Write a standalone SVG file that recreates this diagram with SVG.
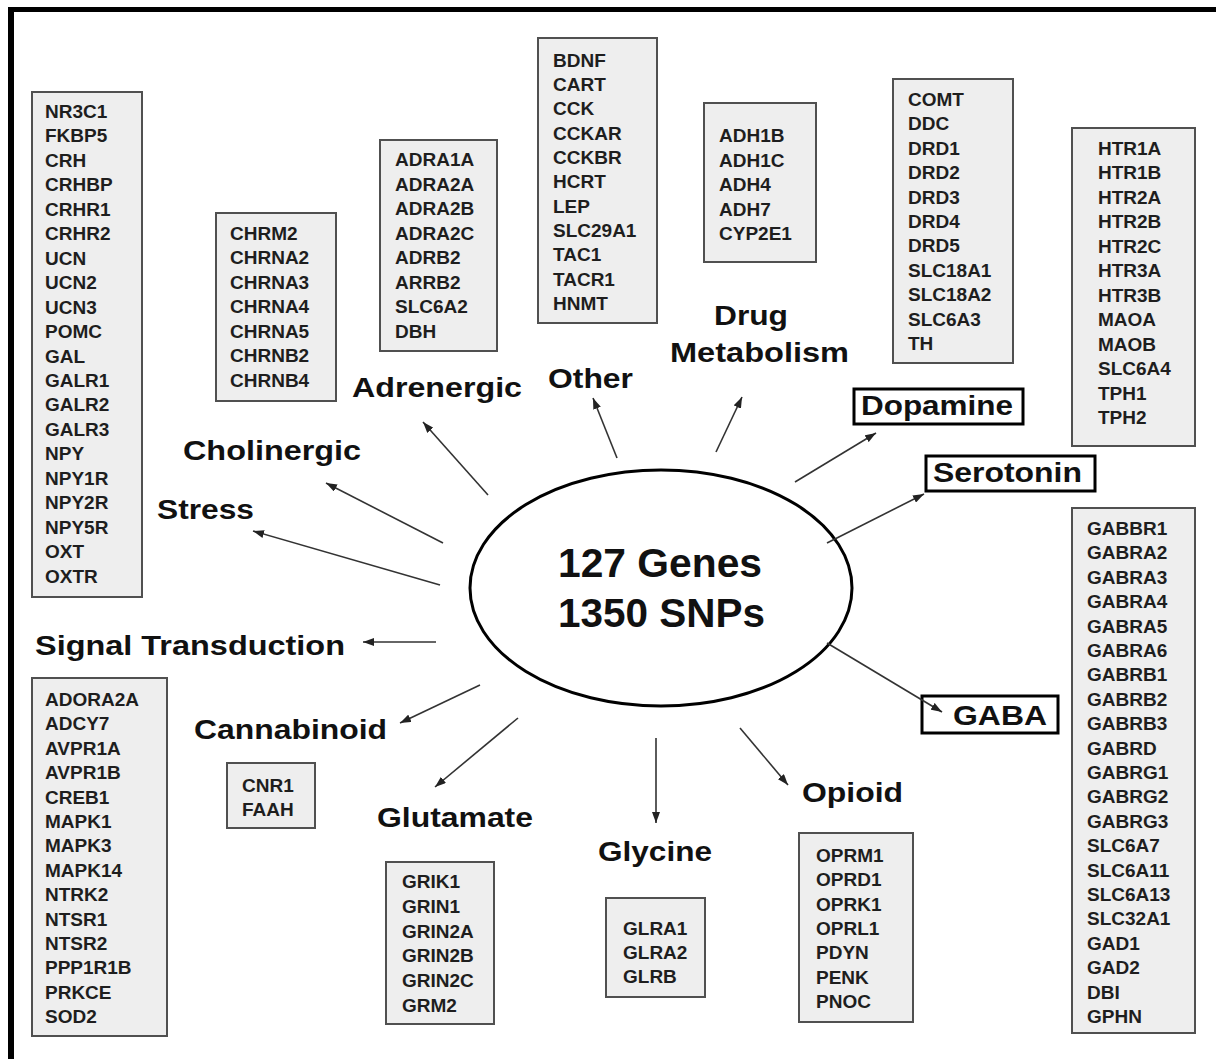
<svg xmlns="http://www.w3.org/2000/svg" width="1216" height="1059" viewBox="0 0 1216 1059">
<style>
.box{fill:#eeeeee;stroke:#505050;stroke-width:2}
.gene{font-family:"Liberation Sans",Arial,sans-serif;font-weight:bold;font-size:19px;fill:#1e1e1e}
.lbl{font-family:"Liberation Sans",Arial,sans-serif;font-weight:bold;font-size:28px;fill:#111}
.big{font-family:"Liberation Sans",Arial,sans-serif;font-weight:bold;font-size:40px;fill:#111}
.frame{fill:none;stroke:#000;stroke-width:3}
.conn{stroke:#333;stroke-width:1.6;fill:none;marker-end:url(#ah)}
</style>
<defs>
<marker id="ah" markerUnits="userSpaceOnUse" markerWidth="11" markerHeight="8" refX="11" refY="4" orient="auto">
<path d="M0,0 L11,4 L0,8 z" fill="#222"/>
</marker>
</defs>
<rect width="1216" height="1059" fill="#fff"/>
<line x1="8" y1="9.5" x2="1216" y2="9.5" stroke="#000" stroke-width="5"/>
<line x1="11" y1="7" x2="11" y2="1059" stroke="#000" stroke-width="6"/>

<g id="center">
<ellipse cx="661" cy="588" rx="191" ry="118" fill="#fff" stroke="#000" stroke-width="3"/>
<text class="big" x="558" y="577" textLength="204" lengthAdjust="spacingAndGlyphs">127 Genes</text>
<text class="big" x="558" y="627" textLength="207" lengthAdjust="spacingAndGlyphs">1350 SNPs</text>
</g>

<g id="stress">
<text class="lbl" x="157" y="519" textLength="97" lengthAdjust="spacingAndGlyphs">Stress</text>
<rect class="box" x="32" y="92" width="110" height="505"/>
<text class="gene"><tspan x="45" y="118">NR3C1</tspan><tspan x="45" dy="24.45">FKBP5</tspan><tspan x="45" dy="24.45">CRH</tspan><tspan x="45" dy="24.45">CRHBP</tspan><tspan x="45" dy="24.45">CRHR1</tspan><tspan x="45" dy="24.45">CRHR2</tspan><tspan x="45" dy="24.45">UCN</tspan><tspan x="45" dy="24.45">UCN2</tspan><tspan x="45" dy="24.45">UCN3</tspan><tspan x="45" dy="24.45">POMC</tspan><tspan x="45" dy="24.45">GAL</tspan><tspan x="45" dy="24.45">GALR1</tspan><tspan x="45" dy="24.45">GALR2</tspan><tspan x="45" dy="24.45">GALR3</tspan><tspan x="45" dy="24.45">NPY</tspan><tspan x="45" dy="24.45">NPY1R</tspan><tspan x="45" dy="24.45">NPY2R</tspan><tspan x="45" dy="24.45">NPY5R</tspan><tspan x="45" dy="24.45">OXT</tspan><tspan x="45" dy="24.45">OXTR</tspan></text>
</g>

<g id="cholinergic">
<text class="lbl" x="183" y="460" textLength="178" lengthAdjust="spacingAndGlyphs">Cholinergic</text>
<rect class="box" x="216" y="213" width="120" height="188"/>
<text class="gene"><tspan x="230" y="240">CHRM2</tspan><tspan x="230" dy="24.45">CHRNA2</tspan><tspan x="230" dy="24.45">CHRNA3</tspan><tspan x="230" dy="24.45">CHRNA4</tspan><tspan x="230" dy="24.45">CHRNA5</tspan><tspan x="230" dy="24.45">CHRNB2</tspan><tspan x="230" dy="24.45">CHRNB4</tspan></text>
</g>

<g id="adrenergic">
<text class="lbl" x="352" y="397" textLength="170" lengthAdjust="spacingAndGlyphs">Adrenergic</text>
<rect class="box" x="380" y="140" width="117" height="211"/>
<text class="gene"><tspan x="395" y="166">ADRA1A</tspan><tspan x="395" dy="24.5">ADRA2A</tspan><tspan x="395" dy="24.5">ADRA2B</tspan><tspan x="395" dy="24.5">ADRA2C</tspan><tspan x="395" dy="24.5">ADRB2</tspan><tspan x="395" dy="24.5">ARRB2</tspan><tspan x="395" dy="24.5">SLC6A2</tspan><tspan x="395" dy="24.5">DBH</tspan></text>
</g>

<g id="other">
<text class="lbl" x="548" y="388" textLength="85" lengthAdjust="spacingAndGlyphs">Other</text>
<rect class="box" x="538" y="38" width="119" height="285"/>
<text class="gene"><tspan x="553" y="66.5">BDNF</tspan><tspan x="553" dy="24.35">CART</tspan><tspan x="553" dy="24.35">CCK</tspan><tspan x="553" dy="24.35">CCKAR</tspan><tspan x="553" dy="24.35">CCKBR</tspan><tspan x="553" dy="24.35">HCRT</tspan><tspan x="553" dy="24.35">LEP</tspan><tspan x="553" dy="24.35">SLC29A1</tspan><tspan x="553" dy="24.35">TAC1</tspan><tspan x="553" dy="24.35">TACR1</tspan><tspan x="553" dy="24.35">HNMT</tspan></text>
</g>

<g id="drug-metabolism">
<text class="lbl" x="714" y="325" textLength="74" lengthAdjust="spacingAndGlyphs">Drug</text>
<text class="lbl" x="670" y="362" textLength="179" lengthAdjust="spacingAndGlyphs">Metabolism</text>
<rect class="box" x="704" y="103" width="112" height="159"/>
<text class="gene"><tspan x="719" y="142">ADH1B</tspan><tspan x="719" dy="24.5">ADH1C</tspan><tspan x="719" dy="24.5">ADH4</tspan><tspan x="719" dy="24.5">ADH7</tspan><tspan x="719" dy="24.5">CYP2E1</tspan></text>
</g>

<g id="dopamine">
<rect class="frame" x="854" y="389" width="169" height="35"/>
<text class="lbl" x="861" y="415" textLength="152" lengthAdjust="spacingAndGlyphs">Dopamine</text>
<rect class="box" x="893" y="79" width="120" height="284"/>
<text class="gene"><tspan x="908" y="106">COMT</tspan><tspan x="908" dy="24.4">DDC</tspan><tspan x="908" dy="24.4">DRD1</tspan><tspan x="908" dy="24.4">DRD2</tspan><tspan x="908" dy="24.4">DRD3</tspan><tspan x="908" dy="24.4">DRD4</tspan><tspan x="908" dy="24.4">DRD5</tspan><tspan x="908" dy="24.4">SLC18A1</tspan><tspan x="908" dy="24.4">SLC18A2</tspan><tspan x="908" dy="24.4">SLC6A3</tspan><tspan x="908" dy="24.4">TH</tspan></text>
</g>

<g id="serotonin">
<rect class="frame" x="926" y="456" width="169" height="35"/>
<text class="lbl" x="933" y="482" textLength="149" lengthAdjust="spacingAndGlyphs">Serotonin</text>
<rect class="box" x="1072" y="128" width="123" height="318"/>
<text class="gene"><tspan x="1098" y="155">HTR1A</tspan><tspan x="1098" dy="24.45">HTR1B</tspan><tspan x="1098" dy="24.45">HTR2A</tspan><tspan x="1098" dy="24.45">HTR2B</tspan><tspan x="1098" dy="24.45">HTR2C</tspan><tspan x="1098" dy="24.45">HTR3A</tspan><tspan x="1098" dy="24.45">HTR3B</tspan><tspan x="1098" dy="24.45">MAOA</tspan><tspan x="1098" dy="24.45">MAOB</tspan><tspan x="1098" dy="24.45">SLC6A4</tspan><tspan x="1098" dy="24.45">TPH1</tspan><tspan x="1098" dy="24.45">TPH2</tspan></text>
</g>

<g id="gaba">
<rect class="frame" x="922" y="696" width="136" height="37"/>
<text class="lbl" x="953" y="725" textLength="94" lengthAdjust="spacingAndGlyphs">GABA</text>
<rect class="box" x="1072" y="508" width="123" height="525"/>
<text class="gene"><tspan x="1087" y="535">GABBR1</tspan><tspan x="1087" dy="24.4">GABRA2</tspan><tspan x="1087" dy="24.4">GABRA3</tspan><tspan x="1087" dy="24.4">GABRA4</tspan><tspan x="1087" dy="24.4">GABRA5</tspan><tspan x="1087" dy="24.4">GABRA6</tspan><tspan x="1087" dy="24.4">GABRB1</tspan><tspan x="1087" dy="24.4">GABRB2</tspan><tspan x="1087" dy="24.4">GABRB3</tspan><tspan x="1087" dy="24.4">GABRD</tspan><tspan x="1087" dy="24.4">GABRG1</tspan><tspan x="1087" dy="24.4">GABRG2</tspan><tspan x="1087" dy="24.4">GABRG3</tspan><tspan x="1087" dy="24.4">SLC6A7</tspan><tspan x="1087" dy="24.4">SLC6A11</tspan><tspan x="1087" dy="24.4">SLC6A13</tspan><tspan x="1087" dy="24.4">SLC32A1</tspan><tspan x="1087" dy="24.4">GAD1</tspan><tspan x="1087" dy="24.4">GAD2</tspan><tspan x="1087" dy="24.4">DBI</tspan><tspan x="1087" dy="24.4">GPHN</tspan></text>
</g>

<g id="signal-transduction">
<text class="lbl" x="35" y="655" textLength="310" lengthAdjust="spacingAndGlyphs">Signal Transduction</text>
<rect class="box" x="32" y="678" width="135" height="358"/>
<text class="gene"><tspan x="45" y="706">ADORA2A</tspan><tspan x="45" dy="24.4">ADCY7</tspan><tspan x="45" dy="24.4">AVPR1A</tspan><tspan x="45" dy="24.4">AVPR1B</tspan><tspan x="45" dy="24.4">CREB1</tspan><tspan x="45" dy="24.4">MAPK1</tspan><tspan x="45" dy="24.4">MAPK3</tspan><tspan x="45" dy="24.4">MAPK14</tspan><tspan x="45" dy="24.4">NTRK2</tspan><tspan x="45" dy="24.4">NTSR1</tspan><tspan x="45" dy="24.4">NTSR2</tspan><tspan x="45" dy="24.4">PPP1R1B</tspan><tspan x="45" dy="24.4">PRKCE</tspan><tspan x="45" dy="24.4">SOD2</tspan></text>
</g>

<g id="cannabinoid">
<text class="lbl" x="194" y="739" textLength="193" lengthAdjust="spacingAndGlyphs">Cannabinoid</text>
<rect class="box" x="227" y="763" width="88" height="65"/>
<text class="gene"><tspan x="242" y="792">CNR1</tspan><tspan x="242" dy="24">FAAH</tspan></text>
</g>

<g id="glutamate">
<text class="lbl" x="377" y="827" textLength="156" lengthAdjust="spacingAndGlyphs">Glutamate</text>
<rect class="box" x="386" y="862" width="108" height="162"/>
<text class="gene"><tspan x="402" y="888">GRIK1</tspan><tspan x="402" dy="24.8">GRIN1</tspan><tspan x="402" dy="24.8">GRIN2A</tspan><tspan x="402" dy="24.8">GRIN2B</tspan><tspan x="402" dy="24.8">GRIN2C</tspan><tspan x="402" dy="24.8">GRM2</tspan></text>
</g>

<g id="glycine">
<text class="lbl" x="598" y="861" textLength="114" lengthAdjust="spacingAndGlyphs">Glycine</text>
<rect class="box" x="606" y="898" width="99" height="99"/>
<text class="gene"><tspan x="623" y="935">GLRA1</tspan><tspan x="623" dy="24">GLRA2</tspan><tspan x="623" dy="24">GLRB</tspan></text>
</g>

<g id="opioid">
<text class="lbl" x="802" y="802" textLength="101" lengthAdjust="spacingAndGlyphs">Opioid</text>
<rect class="box" x="799" y="833" width="114" height="189"/>
<text class="gene"><tspan x="816" y="862">OPRM1</tspan><tspan x="816" dy="24.35">OPRD1</tspan><tspan x="816" dy="24.35">OPRK1</tspan><tspan x="816" dy="24.35">OPRL1</tspan><tspan x="816" dy="24.35">PDYN</tspan><tspan x="816" dy="24.35">PENK</tspan><tspan x="816" dy="24.35">PNOC</tspan></text>
</g>

<g id="connectors">
<line class="conn" x1="440" y1="585" x2="253" y2="531"/>
<line class="conn" x1="443" y1="543" x2="326" y2="483"/>
<line class="conn" x1="488" y1="495" x2="423" y2="422"/>
<line class="conn" x1="617" y1="458" x2="593" y2="398"/>
<line class="conn" x1="716" y1="452" x2="742" y2="397"/>
<line class="conn" x1="795" y1="482" x2="876" y2="433"/>
<line class="conn" x1="827" y1="543" x2="924" y2="494"/>
<line class="conn" x1="827" y1="643" x2="942" y2="712"/>
<line class="conn" x1="436" y1="642" x2="363" y2="642"/>
<line class="conn" x1="480" y1="685" x2="400" y2="723"/>
<line class="conn" x1="518" y1="718" x2="435" y2="787"/>
<line class="conn" x1="656" y1="738" x2="656" y2="823"/>
<line class="conn" x1="740" y1="728" x2="788" y2="785"/>
</g>
</svg>
